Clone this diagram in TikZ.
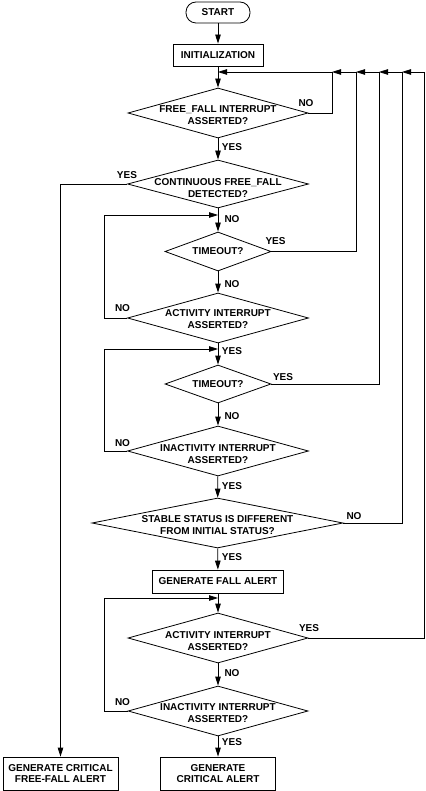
\documentclass[tikz,border=0pt]{standalone}
\usepackage{fontspec}
\setmainfont{Liberation Sans}
\usetikzlibrary{arrows.meta,shapes.geometric}
\begin{document}
\begin{tikzpicture}[x=1pt,y=1pt]
\tikzstyle{every node}+=[inner sep=0pt, align=center, font=\fontsize{10}{11.5}\selectfont\bfseries]
\tikzstyle{box}=[draw, line width=0.8pt]
\tikzstyle{dec}=[diamond, draw, line width=0.8pt]
\tikzstyle{flow}=[line width=0.8pt, -{Triangle[length=9pt,width=5.5pt]}]
\useasboundingbox (0,0) rectangle (425,-791);
\node [box, rounded corners=10pt, minimum width=64pt, minimum height=21pt] (start) at (218,-12.5) {START};
\node [box, minimum width=90pt, minimum height=22pt] (init) at (218,-55) {INITIALIZATION};
\node [dec, minimum width=180pt, minimum height=50pt, label={[yshift=-2pt]center:FREE\_FALL INTERRUPT\\ASSERTED?}] (ff) at (218,-113) {};
\node [dec, minimum width=181pt, minimum height=48pt, label={[yshift=-4pt]center:CONTINUOUS FREE\_FALL\\DETECTED?}] (cont) at (218,-184) {};
\node [dec, minimum width=106pt, minimum height=39pt, label={center:TIMEOUT?}] (to1) at (218,-251.5) {};
\node [dec, minimum width=181pt, minimum height=50pt, label={[yshift=-1pt]center:ACTIVITY INTERRUPT\\ASSERTED?}] (act1) at (218,-318) {};
\node [dec, minimum width=106pt, minimum height=38pt, label={center:TIMEOUT?}] (to2) at (218,-384) {};
\node [dec, minimum width=181pt, minimum height=50pt, label={[yshift=-3pt]center:INACTIVITY INTERRUPT\\ASSERTED?}] (inact1) at (218,-451) {};
\node [dec, minimum width=251pt, minimum height=50pt, label={[yshift=-2pt]center:STABLE STATUS IS DIFFERENT\\FROM INITIAL STATUS?}] (stable) at (217.5,-523) {};
\node [box, minimum width=131pt, minimum height=23pt] (fall) at (218,-581.5) {GENERATE FALL ALERT};
\node [dec, minimum width=180pt, minimum height=50pt, label={[yshift=-3pt]center:ACTIVITY INTERRUPT\\ASSERTED?}] (act2) at (218,-638) {};
\node [dec, minimum width=180pt, minimum height=50pt, label={[yshift=-2pt]center:INACTIVITY INTERRUPT\\ASSERTED?}] (inact2) at (218,-711) {};
\node [box, minimum width=115pt, minimum height=33pt] (crit) at (218,-773.5) {GENERATE\\CRITICAL ALERT};
\node [box, minimum width=115pt, minimum height=33pt] (ffalert) at (60.5,-773.5) {GENERATE CRITICAL\\FREE-FALL ALERT};
% junctions
\coordinate (j0) at (218,-72);
\coordinate (j1) at (218,-215);
\coordinate (j2) at (218,-349);
\coordinate (j3) at (218,-598);
\coordinate (r1) at (332,-72);
\coordinate (r2) at (356,-72);
\coordinate (r3) at (379,-72);
\coordinate (r4) at (402,-72);
\coordinate (r5) at (424,-72);
\coordinate (l1) at (104,-215);
\coordinate (l2) at (104,-349);
\coordinate (l3) at (104,-598);
% main line
\draw [flow] (start) -- (init);
\draw [flow] (init) -- (ff);
\draw [flow] (ff) -- (cont);
\draw [flow] (cont) -- (to1);
\draw [flow] (to1) -- (act1);
\draw [flow] (act1) -- (to2);
\draw [flow] (to2) -- (inact1);
\draw [flow] (inact1) -- (stable);
\draw [flow] (stable) -- (fall);
\draw [flow] (fall) -- (act2);
\draw [flow] (act2) -- (inact2);
\draw [flow] (inact2) -- (crit);
\draw [flow] (cont.west) -| (ffalert.north);
% loops back
\draw [flow] (ff.east) -| (r1) -- (j0);
\draw [flow] (to1.east) -| (r2) -- (r1);
\draw [flow] (to2.east) -| (r3) -- (r2);
\draw [flow] (stable.east) -| (r4) -- (r3);
\draw [flow] (act2.east) -| (r5) -- (r4);
\draw [flow] (act1.west) -| (l1) -- (j1);
\draw [flow] (inact1.west) -| (l2) -- (j2);
\draw [flow] (inact2.west) -| (l3) -- (j3);
% labels
\node (n1) at (306,-103) {NO};
\node (y1) at (232,-147) {YES};
\node (y2) at (127,-175) {YES};
\node (n2) at (232,-219) {NO};
\node (y3) at (275.5,-241) {YES};
\node (n3) at (232,-284.5) {NO};
\node (n4) at (122.5,-308) {NO};
\node (y4) at (232,-351) {YES};
\node (y5) at (283,-377) {YES};
\node (n5) at (232,-416) {NO};
\node (n6) at (122.5,-443) {NO};
\node (y6) at (232,-486) {YES};
\node (n7) at (354,-516) {NO};
\node (y7) at (232,-557) {YES};
\node (y8) at (309,-628) {YES};
\node (n8) at (232,-673) {NO};
\node (n9) at (122.5,-702) {NO};
\node (y9) at (232,-742) {YES};
\end{tikzpicture}
\end{document}
